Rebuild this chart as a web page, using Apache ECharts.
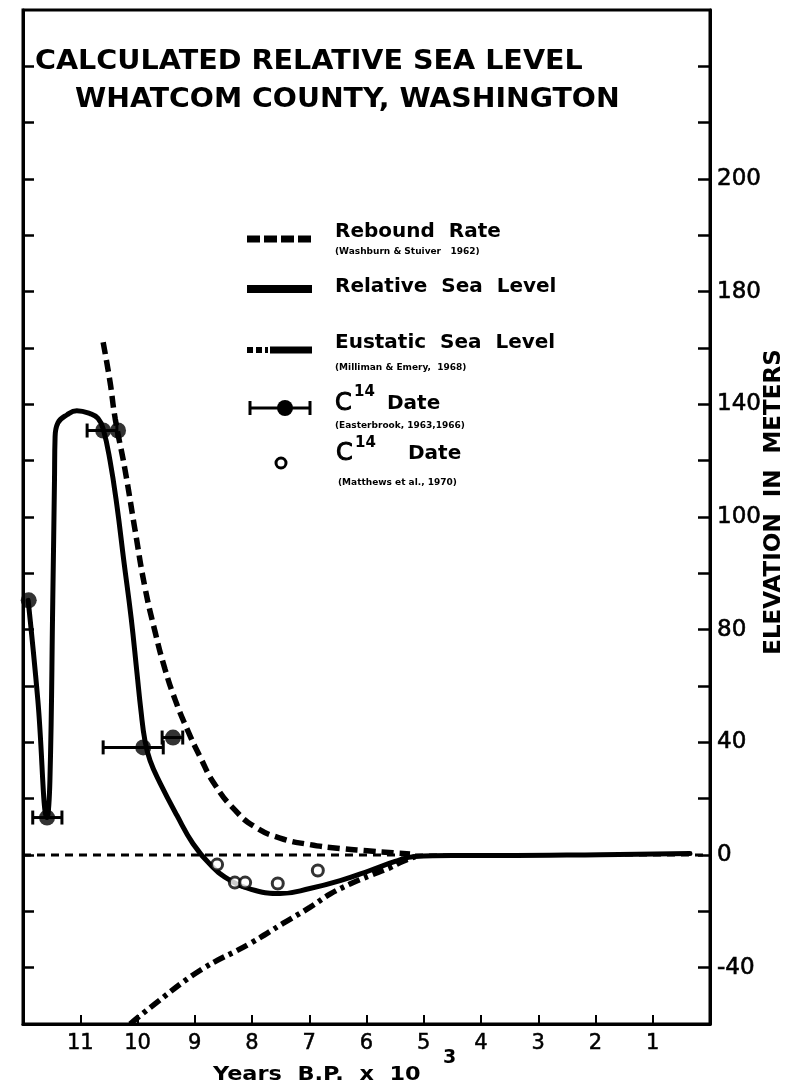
<!DOCTYPE html>
<html><head><meta charset="utf-8">
<script src="https://cdn.jsdelivr.net/npm/echarts@6/dist/echarts.min.js"></script>
<style>html,body{margin:0;padding:0;background:#fff}#c{width:789px;height:1089px}</style>
</head><body><div id="c"></div>
<script>
// ---- data (years B.P. x 10^3, elevation in plotted units) ----
const xTickValues = [1,2,3,4,5,6,7,8,9,10,11];
const yTickValues = [-40,-20,0,20,40,60,80,100,120,140,160,180,200,220,240,260,280];
const yLabelValues = [-40,0,40,80,120,160,200,240];
const yLabelTexts  = ['-40','0','40','80','100','140','180','200'];

const relativeSeaLevel = [[11.91,90.4],[11.74,54.8],[11.58,13.3],[11.53,26.4],[11.48,90.4],[11.45,133],[11.44,148],[11.39,153.4],[11.23,156.3],[11.06,157.7],[10.83,156.7],[10.69,155],[10.60,151.3],[10.48,140.0],[10.36,124.1],[10.24,104.6],[10.11,84.0],[10.01,64.8],[9.94,51.3],[9.87,40.6],[9.78,33.5],[9.61,25.7],[9.31,14.0],[9.03,4.0],[8.73,-3.4],[8.38,-9.0],[7.94,-12.6],[7.51,-13.7],[6.99,-11.9],[6.46,-9.1],[5.94,-5.5],[5.50,-2.3],[5.15,-0.5],[4.5,-0.2],[3.67,-0.2],[1.92,0.1],[0.35,0.5]];

const reboundRate = [[10.60,182],[10.48,168],[10.39,155],[10.22,137],[10.04,115],[9.87,95],[9.69,79],[9.52,66],[9.34,55],[9.14,45],[8.91,35],[8.65,25],[8.30,16],[7.95,10],[7.51,6],[6.99,3.7],[6.46,2.3],[5.99,1.5],[5.54,0.8],[5.24,0.4]];

const eustaticSeaLevel = [[10.13,-60],[9.78,-54.2],[8.91,-41.0],[8.03,-31.4],[7.46,-24.3],[6.99,-18.6],[6.64,-13.9],[6.29,-10.3],[5.94,-7.3],[5.59,-4.5],[5.36,-2.2],[5.15,-0.6]];

// [year, elevation, error-bar from, error-bar to]
const c14Easterbrook = [[11.90,90.4,11.90,11.90],[11.58,13.3,11.83,11.32],[10.60,150.7,10.88,10.36],[10.34,150.7,10.34,10.34],[9.90,38.2,10.60,9.55],[9.38,41.7,9.57,9.21]];
const c14Matthews = [[8.61,-3.4],[8.30,-9.8],[8.12,-9.8],[7.55,-10.1],[6.85,-5.5]];
const zeroLine = [[12,0],[0,0]];

const FONT = "'DejaVu Sans', sans-serif";
const chart = echarts.init(document.getElementById('c'), null, {renderer:'canvas'});

function txt(x, y, text, size, weight, opts) {
  opts = opts || {};
  return Object.assign({
    type:'text', x:x, y:y,
    style:{text:text, fill:'#000', font:(weight||'bold')+' '+size+'px '+FONT,
      align:opts.align||'left', textAlign:opts.align||'left',
      verticalAlign:'middle', textVerticalAlign:'middle',
      stroke: opts.stroke ? '#000' : null, lineWidth: opts.stroke || 0}
  }, opts.extra || {});
}
function seg(x1,y1,x2,y2,w,dash){
  return {type:'line', shape:{x1:x1,y1:y1,x2:x2,y2:y2}, style:{stroke:'#000', lineWidth:w, lineDash:dash||null}};
}

const graphics = [
  txt(35, 62, 'CALCULATED RELATIVE SEA LEVEL', 26, 'bold', {extra:{scaleX:1.1}}),
  txt(75, 100, 'WHATCOM COUNTY, WASHINGTON', 26, 'bold', {extra:{scaleX:1.09}}),
  // legend
  seg(247,239,312,239,7,[13,4]),
  txt(335, 232, 'Rebound  Rate', 20, 'bold'),
  txt(335, 252, '(Washburn & Stuiver   1962)', 9, 'bold'),
  seg(247,289,312,289,8),
  txt(335, 287, 'Relative  Sea  Level', 20, 'bold'),
  seg(247,350,268,350,6,[6,3]),
  seg(270,350,312,350,7),
  txt(335, 343, 'Eustatic  Sea  Level', 20, 'bold'),
  txt(335, 368, '(Milliman & Emery,  1968)', 9, 'bold'),
  seg(250,408,310,408,3),
  seg(250,401,250,415,3),
  seg(310,401,310,415,3),
  {type:'circle', shape:{cx:285, cy:408, r:8}, style:{fill:'#000'}},
  txt(335, 404, 'C', 24, 'normal', {stroke:1}),
  txt(354, 392, '14', 15, 'bold'),
  txt(387, 404, 'Date', 20, 'bold'),
  txt(335, 426, '(Easterbrook, 1963,1966)', 9, 'bold'),
  {type:'circle', shape:{cx:281, cy:463, r:5}, style:{fill:'#fff', stroke:'#000', lineWidth:3}},
  txt(336, 454, 'C', 24, 'normal', {stroke:1}),
  txt(355, 443, '14', 15, 'bold'),
  txt(408, 454, 'Date', 20, 'bold'),
  txt(338, 483, '(Matthews et al., 1970)', 9, 'bold'),
  // axis titles
  txt(213, 1075, 'Years  B.P.  x  10', 20, 'bold', {extra:{scaleX:1.12}}),
  txt(443, 1058, '3', 19, 'bold'),
  {type:'text', x:774, y:502, rotation:Math.PI/2,
    style:{text:'ELEVATION  IN  METERS', fill:'#000', font:'bold 23px '+FONT,
      align:'center', textAlign:'center', verticalAlign:'middle', textVerticalAlign:'middle'}}
];

const tickLabelStyle = {color:'#000', fontFamily:FONT, fontSize:23, textBorderColor:'#000', textBorderWidth:0.6};

const option = {
  animation:false,
  backgroundColor:'#fff',
  grid:{left:23, right:79, top:10, bottom:65, show:true, borderColor:'#000', borderWidth:3, backgroundColor:'transparent'},
  xAxis:{type:'value', min:0, max:12, inverse:true, position:'bottom',
    axisLine:{show:true, onZero:false, lineStyle:{color:'#000', width:3}},
    axisTick:{show:true, inside:true, length:9, customValues:xTickValues, lineStyle:{color:'#000', width:2}},
    axisLabel:{show:true, customValues:xTickValues, margin:9, color:'#000', fontFamily:FONT, fontSize:21, textBorderColor:'#000', textBorderWidth:0.5},
    splitLine:{show:false}},
  yAxis:[
    {type:'value', min:-60, max:300, position:'left',
      axisLine:{show:true, onZero:false, lineStyle:{color:'#000', width:3}},
      axisTick:{show:true, inside:true, length:11, customValues:yTickValues, lineStyle:{color:'#000', width:2.5}},
      axisLabel:{show:false}, splitLine:{show:false}},
    {type:'value', min:-60, max:300, position:'right',
      axisLine:{show:true, onZero:false, lineStyle:{color:'#000', width:3}},
      axisTick:{show:true, inside:true, length:12, customValues:yTickValues, lineStyle:{color:'#000', width:2.5}},
      axisLabel:Object.assign({show:true, customValues:yLabelValues, margin:7,
        formatter:function(v){const i=yLabelValues.indexOf(v); return i>=0?yLabelTexts[i]:'';}}, tickLabelStyle),
      splitLine:{show:false}}
  ],
  graphic:{elements:graphics},
  series:[
    {type:'line', name:'zero', data:zeroLine, symbol:'none', z:1,
      lineStyle:{color:'#000', width:3, type:[8,6]}},
    {type:'line', name:'Eustatic Sea Level', data:eustaticSeaLevel, symbol:'none', smooth:0.4, z:2,
      lineStyle:{color:'#000', width:5.5, type:[12,5,4,5], cap:'butt'}},
    {type:'line', name:'Rebound Rate', data:reboundRate, symbol:'none', smooth:0.5, z:2,
      lineStyle:{color:'#000', width:5.5, type:[12,6], cap:'butt'}},
    {type:'line', name:'Relative Sea Level', data:relativeSeaLevel, symbol:'none', smooth:0.45, z:3,
      lineStyle:{color:'#000', width:5, cap:'round', join:'round'}},
    {type:'custom', name:'C14 error', data:c14Easterbrook, z:4,
      encode:{x:[0,2,3], y:1},
      renderItem:function(params, api){
        const y = api.value(1);
        const a = api.coord([api.value(2), y]);
        const b = api.coord([api.value(3), y]);
        if (Math.abs(a[0]-b[0]) < 1) return {type:'group', children:[]};
        const cap = 7;
        const st = {stroke:'#000', lineWidth:3};
        return {type:'group', children:[
          {type:'line', shape:{x1:a[0],y1:a[1],x2:b[0],y2:b[1]}, style:st},
          {type:'line', shape:{x1:a[0],y1:a[1]-cap,x2:a[0],y2:a[1]+cap}, style:st},
          {type:'line', shape:{x1:b[0],y1:b[1]-cap,x2:b[0],y2:b[1]+cap}, style:st}
        ]};
      }},
    {type:'scatter', name:'C14 Date (Easterbrook)', data:c14Easterbrook.map(d=>[d[0],d[1]]), symbol:'circle', symbolSize:16, z:5,
      itemStyle:{color:'#000'}},
    {type:'scatter', name:'C14 Date (Matthews)', data:c14Matthews, symbol:'circle', symbolSize:11, z:5,
      itemStyle:{color:'#fff', borderColor:'#000', borderWidth:3}}
  ]
};
chart.setOption(option);
</script>
</body></html>
